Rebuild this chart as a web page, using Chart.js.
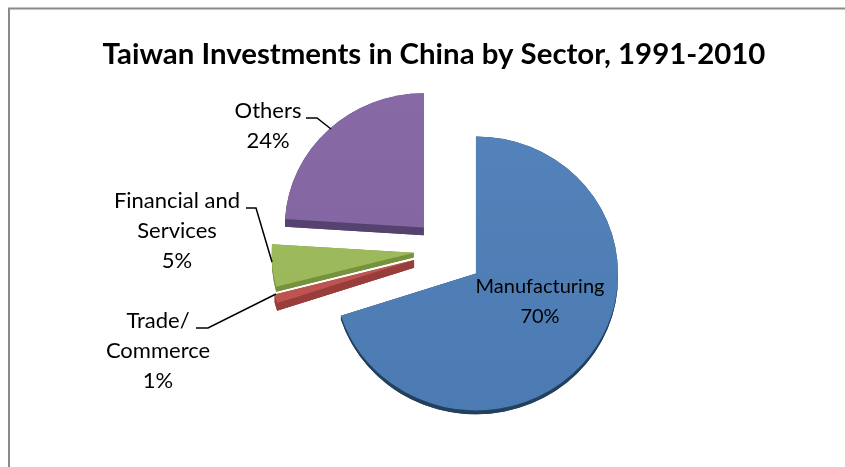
<!DOCTYPE html>
<html>
<head>
<meta charset="utf-8">
<title>Taiwan Investments in China by Sector</title>
<script src="https://cdn.jsdelivr.net/npm/chart.js@4"></script>
<style>
  body { margin: 0; background: #fff; }
  canvas { display: block; }
</style>
</head>
<body>
<canvas id="sectorChart" width="845" height="467"></canvas>
<script>
//chart data
const titleText = 'Taiwan Investments in China by Sector, 1991-2010';
const categories = ['Manufacturing', 'Trade/ Commerce', 'Financial and Services', 'Others'];
const shares = [70, 1, 5, 24];

//slice styles
const faceTop = ['#5583bb', '#c25a55', '#a0bd60', '#8769a5'];
const faceBottom = ['#4b7bb2', '#bb4f4b', '#98b757', '#7f62a0'];
const rimColors = ['#24405f', '#983d3a', '#76923c', '#56426f'];
const rimDepth = [4, 8, 5, 8];
const explode = [29, 40, 39, 42];
const lift = [1, -7, -7, 1];
const sliceRadius = [142, 144, 142, 139];

//label placement: center x, first line y, wrapped lines, font size
const labelSpots = [
  { x: 540, y: 287, size: 20, lines: ['Manufacturing'] },
  { x: 158, y: 321, size: 22, lines: ['Trade/', 'Commerce'] },
  { x: 177, y: 201, size: 22, lines: ['Financial and', 'Services'] },
  { x: 268, y: 111, size: 22, lines: ['Others'] }
];
const leaders = [
  null,
  [[196, 328], [208, 328], [276, 294]],
  [[246, 208], [256, 208], [272, 262]],
  [[306, 118], [317, 118], [331, 129]]
];

const squash = 0.965;

//pull every slice away from the center along its own middle angle
const explodePlugin = {
  id: 'explode',
  afterDatasetsUpdate(chart) {
    chart.getDatasetMeta(0).data.forEach((arc, i) => {
      const mid = (arc.startAngle + arc.endAngle) / 2;
      arc.x += Math.cos(mid) * explode[i];
      arc.y += Math.sin(mid) * explode[i] + lift[i];
      arc.outerRadius = sliceRadius[i];
    });
  }
};

//tilt the pie a little and draw the side walls under the faces
const tiltPlugin = {
  id: 'tilt',
  beforeDatasetsDraw(chart) {
    const ctx = chart.ctx;
    const cy = (chart.chartArea.top + chart.chartArea.bottom) / 2;
    ctx.save();
    ctx.translate(0, cy);
    ctx.scale(1, squash);
    ctx.translate(0, -cy);
    chart.getDatasetMeta(0).data.forEach((arc, i) => {
      const d = rimDepth[i];
      const r = arc.outerRadius;
      ctx.fillStyle = rimColors[i];
      //the lowered face
      ctx.beginPath();
      ctx.moveTo(arc.x, arc.y + d);
      ctx.arc(arc.x, arc.y + d, r, arc.startAngle, arc.endAngle);
      ctx.closePath();
      ctx.fill();
      //the band between the face and its lowered copy
      ctx.beginPath();
      ctx.arc(arc.x, arc.y, r, arc.startAngle, arc.endAngle);
      ctx.arc(arc.x, arc.y + d, r, arc.endAngle, arc.startAngle, true);
      ctx.closePath();
      ctx.fill();
      //the two straight walls
      [arc.startAngle, arc.endAngle].forEach(a => {
        const ex = arc.x + Math.cos(a) * r;
        const ey = arc.y + Math.sin(a) * r;
        ctx.beginPath();
        ctx.moveTo(arc.x, arc.y);
        ctx.lineTo(ex, ey);
        ctx.lineTo(ex, ey + d);
        ctx.lineTo(arc.x, arc.y + d);
        ctx.closePath();
        ctx.fill();
      });
    });
  },
  afterDatasetsDraw(chart) {
    chart.ctx.restore();
  }
};

//frame, title, labels and leader lines
const textPlugin = {
  id: 'texts',
  beforeDraw(chart) {
    const ctx = chart.ctx;
    ctx.save();
    ctx.strokeStyle = '#8a8a8a';
    ctx.lineWidth = 2;
    ctx.beginPath();
    ctx.moveTo(9, 467);
    ctx.lineTo(9, 8.5);
    ctx.lineTo(845, 8.5);
    ctx.stroke();
    ctx.restore();
  },
  afterDraw(chart) {
    const ctx = chart.ctx;
    ctx.save();
    ctx.fillStyle = '#000';
    ctx.textAlign = 'center';
    ctx.textBaseline = 'middle';
    ctx.font = 'bold 29.4px Lato';
    ctx.fillText(titleText, 434, 55);
    labelSpots.forEach((spot, i) => {
      ctx.font = spot.size + 'px Lato';
      const rows = spot.lines.concat(shares[i] + '%');
      rows.forEach((row, k) => ctx.fillText(row, spot.x, spot.y + k * 30));
    });
    ctx.strokeStyle = '#000';
    ctx.lineWidth = 1.5;
    leaders.forEach(path => {
      if (!path) return;
      ctx.beginPath();
      path.forEach((p, k) => k ? ctx.lineTo(p[0], p[1]) : ctx.moveTo(p[0], p[1]));
      ctx.stroke();
    });
    ctx.restore();
  }
};

const canvas = document.getElementById('sectorChart');
const c = canvas.getContext('2d');
const faceFill = shares.map((v, i) => {
  const g = c.createLinearGradient(0, 90, 0, 415);
  g.addColorStop(0, faceTop[i]);
  g.addColorStop(1, faceBottom[i]);
  return g;
});

new Chart(canvas, {
  type: 'pie',
  data: {
    labels: categories,
    datasets: [{
      data: shares,
      backgroundColor: faceFill,
      borderWidth: 0,
      clip: false
    }]
  },
  options: {
    responsive: false,
    animation: false,
    radius: 142,
    layout: { padding: { left: 60, right: 0, top: 45, bottom: 0 } },
    plugins: {
      legend: { display: false },
      title: { display: false },
      tooltip: { enabled: false }
    }
  },
  plugins: [explodePlugin, tiltPlugin, textPlugin]
});
</script>
</body>
</html>
